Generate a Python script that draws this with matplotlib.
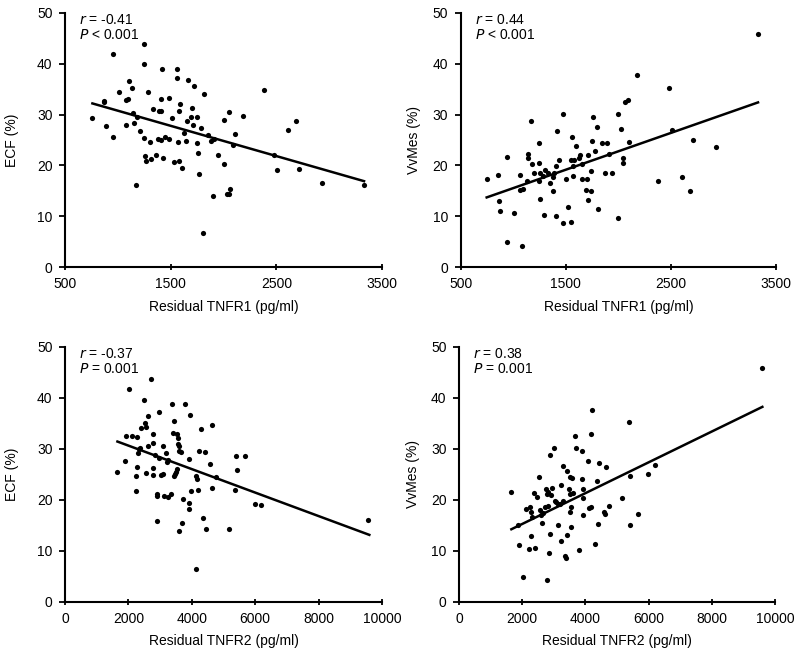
import matplotlib
matplotlib.use("Agg")
import matplotlib.pyplot as plt
import numpy as np

plt.rcParams['font.family'] = ['Liberation Sans', 'DejaVu Sans']
plt.rcParams['font.size'] = 10

# ECF vs residual TNFR1
r1_ecf_x = [759, 869, 869, 888, 951, 951, 1014, 1077, 1093, 1106, 1080, 1137, 1147, 1150, 1178, 1172,
            1210, 1251, 1251, 1251, 1254, 1263, 1289, 1301, 1311, 1336, 1361, 1380, 1393, 1412, 1412,
            1418, 1412, 1424, 1443, 1481, 1484, 1513, 1532, 1557, 1557, 1569, 1576, 1585, 1579, 1604,
            1629, 1648, 1664, 1658, 1705, 1696, 1715, 1724, 1746, 1752, 1756, 1771, 1784, 1815, 1803,
            1856, 1879, 1904, 1913, 1945, 2005, 2005, 2030, 2055, 2049, 2058, 2090, 2112, 2185, 2380,
            2481, 2509, 2607, 2683, 2718, 2932, 3330]
r1_ecf_y = [29.3, 32.7, 32.5, 27.7, 41.9, 25.6, 34.4, 32.9, 33.0, 36.6, 27.9, 35.3, 30.4, 28.3, 29.6, 16.2,
            26.8, 43.8, 39.9, 25.4, 21.9, 20.8, 34.5, 24.7, 21.3, 31.2, 22.1, 25.2, 30.7, 30.7, 33.0,
            38.9, 25.0, 21.5, 25.5, 25.2, 33.2, 29.3, 20.6, 38.9, 37.2, 24.7, 20.8, 32.0, 30.8, 19.4,
            26.4, 24.9, 36.8, 28.7, 31.3, 29.5, 28.0, 35.6, 24.5, 29.6, 22.4, 18.4, 27.3, 34.0, 6.7,
            26.0, 24.8, 14.0, 25.2, 22.1, 28.9, 20.2, 14.4, 14.4, 30.6, 15.4, 24.1, 26.1, 29.8, 34.8,
            22.1, 19.1, 27.0, 28.7, 19.3, 16.6, 16.1]
r1_ecf_fit_x = [759, 3330]
r1_ecf_fit_y = [32.2, 16.9]

# VvMes vs residual TNFR1
r1_vv_x = [747, 858, 862, 874, 941, 941, 1004, 1068, 1068, 1096, 1084, 1128, 1141, 1141, 1166, 1176,
           1201, 1242, 1242, 1249, 1255, 1255, 1287, 1299, 1296, 1331, 1350, 1375, 1382, 1388, 1407,
           1410, 1417, 1432, 1471, 1477, 1505, 1524, 1553, 1553, 1559, 1566, 1566, 1581, 1597, 1623,
           1639, 1654, 1654, 1689, 1699, 1708, 1715, 1740, 1743, 1746, 1762, 1778, 1794, 1807, 1848,
           1870, 1896, 1915, 1937, 2000, 2000, 2022, 2048, 2048, 2060, 2089, 2105, 2178, 2374, 2479,
           2511, 2606, 2682, 2714, 2929, 3329]
r1_vv_y = [17.4, 18.2, 13.0, 11.1, 21.7, 4.9, 10.6, 18.2, 15.1, 15.4, 4.2, 17.0, 22.2, 21.4, 28.7, 20.2,
           18.6, 24.5, 20.5, 17.0, 13.3, 18.5, 17.9, 19.1, 10.3, 18.5, 16.6, 17.7, 15.0, 18.5, 19.8,
           10.1, 26.7, 21.1, 30.1, 8.6, 17.3, 11.8, 8.8, 21.1, 25.6, 17.9, 19.8, 21.1, 23.8, 21.5,
           22.0, 20.3, 17.3, 15.2, 17.3, 22.0, 13.1, 18.9, 15.0, 24.8, 29.6, 22.8, 27.6, 11.4, 24.5,
           18.5, 24.4, 22.2, 18.5, 30.1, 9.6, 27.2, 21.5, 20.4, 32.4, 32.8, 24.6, 37.7, 17.0, 35.2,
           26.9, 17.8, 15.0, 25.0, 23.7, 45.8]
r1_vv_fit_x = [747, 3329]
r1_vv_fit_y = [13.7, 32.4]

# ECF vs residual TNFR2
r2_ecf_x = [1653, 1905, 1916, 2021, 2116, 2232, 2232, 2263, 2274, 2295, 2326, 2368, 2411, 2505, 2537,
            2558, 2547, 2621, 2621, 2716, 2789, 2789, 2789, 2789, 2853, 2905, 2905, 2905, 2958, 2968,
            3032, 3084, 3105, 3126, 3189, 3232, 3242, 3253, 3337, 3368, 3411, 3432, 3432, 3484, 3505,
            3526, 3547, 3558, 3568, 3600, 3611, 3589, 3663, 3695, 3716, 3800, 3905, 3905, 3916, 3958,
            3968, 4116, 4116, 4168, 4189, 4221, 4295, 4358, 4400, 4442, 4589, 4642, 4642, 4747, 5158,
            5368, 5400, 5421, 5674, 5989, 6189, 9568]
r2_ecf_y = [25.4, 27.6, 32.5, 41.7, 32.5, 24.6, 21.8, 26.5, 32.2, 29.2, 29.9, 30.1, 34.1, 39.6, 35.1,
            34.3, 25.2, 36.5, 30.5, 43.7, 32.9, 31.2, 26.3, 24.8, 28.7, 21.2, 20.7, 15.9, 28.1, 37.1,
            24.8, 25.0, 30.5, 20.7, 29.1, 27.3, 20.5, 27.8, 21.2, 38.8, 33.0, 35.4, 24.7, 25.0, 25.5,
            26.1, 32.8, 32.0, 31.0, 29.5, 30.5, 13.8, 29.4, 15.4, 20.1, 38.8, 28.0, 19.3, 18.2, 36.6,
            21.7, 24.7, 6.5, 24.1, 21.9, 29.6, 33.8, 16.5, 29.3, 14.2, 26.9, 34.6, 22.2, 24.5, 14.2,
            21.9, 28.6, 25.9, 28.6, 19.2, 19.0, 16.0]
r2_ecf_fit_x = [1653, 9600]
r2_ecf_fit_y = [31.4, 13.1]

# VvMes vs residual TNFR2
r2_vv_x = [1656, 1878, 1888, 2015, 2110, 2226, 2257, 2268, 2278, 2321, 2373, 2405, 2458, 2542, 2574,
           2595, 2616, 2648, 2711, 2764, 2774, 2785, 2827, 2827, 2838, 2880, 2890, 2911, 2932, 3017,
           3049, 3080, 3133, 3133, 3207, 3238, 3238, 3281, 3291, 3354, 3397, 3418, 3428, 3491, 3513,
           3513, 3523, 3534, 3555, 3576, 3618, 3681, 3702, 3787, 3892, 3903, 3924, 3935, 3935, 4093,
           4114, 4167, 4188, 4209, 4293, 4357, 4388, 4430, 4599, 4631, 4641, 4736, 5158, 5369, 5401,
           5422, 5665, 5992, 6203, 9599]
r2_vv_y = [21.6, 15.1, 11.1, 4.9, 18.2, 10.3, 18.6, 17.5, 12.9, 16.7, 21.4, 10.6, 20.6, 24.4, 17.9,
           17.0, 15.4, 17.3, 18.6, 22.0, 21.2, 4.2, 21.6, 18.8, 9.5, 28.7, 13.3, 21.0, 22.3, 30.1,
           19.8, 19.5, 15.0, 19.2, 19.1, 22.8, 11.8, 26.6, 19.7, 9.0, 8.6, 25.6, 13.1, 22.1, 24.5,
           21.2, 17.5, 14.7, 18.6, 24.3, 21.4, 32.4, 30.1, 10.1, 24.0, 29.6, 22.0, 20.4, 16.9, 27.6,
           18.4, 32.9, 18.6, 37.6, 11.4, 23.7, 15.2, 27.1, 17.6, 17.1, 26.5, 18.8, 20.4, 35.2, 15.0,
           24.6, 17.2, 25.0, 26.8, 45.8]
r2_vv_fit_x = [1656, 9599]
r2_vv_fit_y = [14.2, 38.2]

panels = [
    ([0.0813, 0.5948, 0.3962, 0.3855], r1_ecf_x, r1_ecf_y, r1_ecf_fit_x, r1_ecf_fit_y,
     "ECF (%)", "Residual TNFR1 (pg/ml)", "-0.41", "<", (500, 3500), [500, 1500, 2500, 3500], 13),
    ([0.5759, 0.5948, 0.3941, 0.3855], r1_vv_x, r1_vv_y, r1_vv_fit_x, r1_vv_fit_y,
     "VvMes (%)", "Residual TNFR1 (pg/ml)", "0.44", "<", (500, 3500), [500, 1500, 2500, 3500], 8),
    ([0.0813, 0.0870, 0.3962, 0.3869], r2_ecf_x, r2_ecf_y, r2_ecf_fit_x, r2_ecf_fit_y,
     "ECF (%)", "Residual TNFR2 (pg/ml)", "-0.37", "=", (0, 10000), [0, 2000, 4000, 6000, 8000, 10000], 13),
    ([0.5738, 0.0870, 0.3950, 0.3869], r2_vv_x, r2_vv_y, r2_vv_fit_x, r2_vv_fit_y,
     "VvMes (%)", "Residual TNFR2 (pg/ml)", "0.38", "=", (0, 10000), [0, 2000, 4000, 6000, 8000, 10000], 8),
]

fig = plt.figure(figsize=(8, 6.59), dpi=100)

for rect, xs, ys, fx, fy, ylab, xlab, rval, pop, xlim, xt, ypad in panels:
    ax = fig.add_axes(rect)
    ax.scatter(xs, ys, s=14, color='black', zorder=3, linewidths=0)
    ax.plot(fx, fy, color='black', lw=1.8)
    ax.set_xlim(*xlim)
    ax.set_ylim(0, 50)
    ax.set_xticks(xt)
    ax.set_yticks([0, 10, 20, 30, 40, 50])
    ax.spines['top'].set_visible(False)
    ax.spines['right'].set_visible(False)
    for s in ['left', 'bottom']:
        ax.spines[s].set_linewidth(1.5)
    ax.tick_params(axis='x', direction='inout', length=5, width=1.3, pad=5)
    ax.tick_params(axis='y', direction='out', length=4, width=1.3, pad=5)
    ax.set_ylabel(ylab, labelpad=ypad)
    ax.set_xlabel(xlab, labelpad=6)
    ax.text(0.045, 1.0, "$\\it{r}$ = " + rval, transform=ax.transAxes, va='top', ha='left')
    ax.text(0.045, 0.94, "$\\it{P}$ " + pop + " 0.001", transform=ax.transAxes, va='top', ha='left')

fig.savefig("out.png", dpi=100)
